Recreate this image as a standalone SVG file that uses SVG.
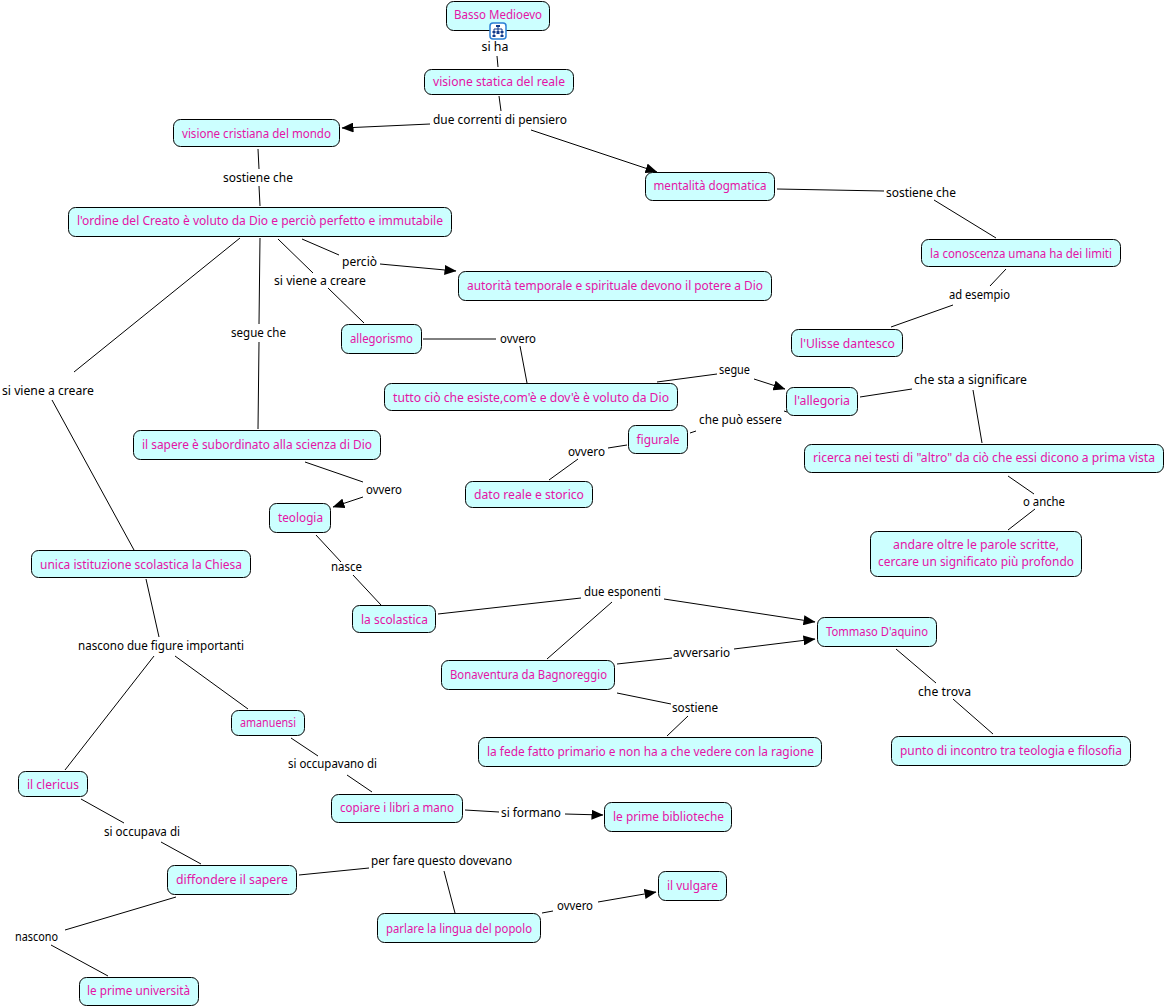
<svg xmlns="http://www.w3.org/2000/svg" width="1166" height="1008" viewBox="0 0 1166 1008">
<style>
text{font-family:"Noto Sans","DejaVu Sans",sans-serif;font-size:12px;text-anchor:middle}
.n rect.b{fill:#ccffff;stroke:#000;stroke-width:1}
.n text{fill:#e413a5}
.l text{fill:#000}
#connectors line{stroke:#000;stroke-width:1;fill:none}
#connectors line.a{marker-end:url(#arrow)}
</style>
<defs>
<marker id="arrow" markerUnits="userSpaceOnUse" markerWidth="12" markerHeight="10" refX="11.500" refY="5" orient="auto"><path d="M0 0L12 5L0 10Z" fill="#000"/></marker>
</defs>
<rect width="1166" height="1008" fill="#fff"/>
<g id="connectors">
<line x1="497" y1="56" x2="498" y2="67"/>
<line x1="499" y1="96" x2="501" y2="111"/>
<line class="a" x1="430" y1="124" x2="342" y2="128"/>
<line class="a" x1="531" y1="130" x2="657" y2="172"/>
<line x1="258" y1="149" x2="259" y2="169"/>
<line x1="259" y1="186" x2="260" y2="206"/>
<line x1="777" y1="189" x2="884" y2="191"/>
<line x1="934" y1="200" x2="996" y2="238"/>
<line x1="1006" y1="269" x2="990" y2="286"/>
<line x1="953" y1="305" x2="891" y2="327"/>
<line x1="302" y1="239" x2="339" y2="255"/>
<line class="a" x1="380" y1="264" x2="456" y2="271"/>
<line x1="278" y1="239" x2="313" y2="273"/>
<line x1="328" y1="288" x2="364" y2="323"/>
<line x1="260" y1="238" x2="259" y2="324"/>
<line x1="259" y1="342" x2="258" y2="429"/>
<line x1="240" y1="238" x2="74" y2="372"/>
<line x1="52" y1="400" x2="134" y2="550"/>
<line x1="423" y1="339" x2="496" y2="339"/>
<line x1="520" y1="346" x2="527" y2="383"/>
<line x1="657" y1="382" x2="717" y2="374"/>
<line class="a" x1="754" y1="379" x2="785" y2="389"/>
<line x1="860" y1="397" x2="912" y2="389"/>
<line x1="973" y1="390" x2="982" y2="443"/>
<line x1="784" y1="411" x2="787" y2="412"/>
<line x1="690" y1="433" x2="696" y2="431"/>
<line x1="608" y1="448" x2="627" y2="445"/>
<line x1="578" y1="459" x2="549" y2="480"/>
<line x1="1008" y1="476" x2="1034" y2="494"/>
<line x1="1035" y1="509" x2="1008" y2="530"/>
<line x1="305" y1="462" x2="363" y2="482"/>
<line class="a" x1="363" y1="497" x2="333" y2="507"/>
<line x1="316" y1="535" x2="341" y2="562"/>
<line x1="353" y1="575" x2="381" y2="605"/>
<line x1="438" y1="614" x2="581" y2="598"/>
<line class="a" x1="664" y1="599" x2="815" y2="622"/>
<line x1="547" y1="659" x2="612" y2="602"/>
<line x1="617" y1="664" x2="672" y2="658"/>
<line class="a" x1="734" y1="649" x2="815" y2="639"/>
<line x1="617" y1="693" x2="671" y2="704"/>
<line x1="688" y1="716" x2="667" y2="736"/>
<line x1="896" y1="649" x2="936" y2="683"/>
<line x1="953" y1="699" x2="993" y2="734"/>
<line x1="146" y1="579" x2="159" y2="637"/>
<line x1="154" y1="656" x2="65" y2="770"/>
<line x1="175" y1="656" x2="248" y2="709"/>
<line x1="291" y1="738" x2="318" y2="756"/>
<line x1="347" y1="775" x2="372" y2="792"/>
<line x1="81" y1="799" x2="124" y2="823"/>
<line x1="161" y1="842" x2="201" y2="864"/>
<line x1="465" y1="810" x2="499" y2="812"/>
<line class="a" x1="565" y1="814" x2="603" y2="815"/>
<line x1="299" y1="875" x2="369" y2="868"/>
<line x1="444" y1="871" x2="455" y2="913"/>
<line x1="542" y1="913" x2="553" y2="911"/>
<line class="a" x1="598" y1="902" x2="656" y2="892"/>
<line x1="176" y1="897" x2="65" y2="930"/>
<line x1="51" y1="945" x2="108" y2="976"/>
</g>
<g id="n1" class="n"><rect class="b" x="446.500" y="1.500" width="103" height="29" rx="7"/><text x="498" y="19" textLength="88" lengthAdjust="spacingAndGlyphs">Basso Medioevo</text>
<rect x="490" y="23" width="16" height="16" rx="3" fill="#fff" stroke="#2a7fd5" stroke-width="1.500"/><path d="M498 26V29M494 31V29H502V31M498 29V31M494 33V35M502 33V35" fill="none" stroke="#123a8c" stroke-width="1"/><path d="M496 25h4v2h-4zM492.500 31h3v2h-3zM496.500 31h3v3h-3zM500.500 31h3v2h-3zM492.500 35h3v2h-3zM500.500 35h3v2h-3z" fill="#123a8c"/></g>
<g id="n2" class="n"><rect class="b" x="424.500" y="69.500" width="149" height="25" rx="7"/><text x="499" y="86" textLength="132" lengthAdjust="spacingAndGlyphs">visione statica del reale</text></g>
<g id="n3" class="n"><rect class="b" x="173.500" y="119.500" width="166" height="27" rx="7"/><text x="256.500" y="138" textLength="149" lengthAdjust="spacingAndGlyphs">visione cristiana del mondo</text></g>
<g id="n4" class="n"><rect class="b" x="645.500" y="172.500" width="129" height="28" rx="7"/><text x="710" y="190" textLength="113" lengthAdjust="spacingAndGlyphs">mentalità dogmatica</text></g>
<g id="n5" class="n"><rect class="b" x="68.500" y="207.500" width="383" height="29" rx="7"/><text x="260" y="225" textLength="366" lengthAdjust="spacingAndGlyphs">l'ordine del Creato è voluto da Dio e perciò perfetto e immutabile</text></g>
<g id="n6" class="n"><rect class="b" x="921.500" y="239.500" width="199" height="27" rx="7"/><text x="1021" y="258" textLength="182" lengthAdjust="spacingAndGlyphs">la conoscenza umana ha dei limiti</text></g>
<g id="n7" class="n"><rect class="b" x="458.500" y="271.500" width="313" height="29" rx="7"/><text x="615" y="290" textLength="296" lengthAdjust="spacingAndGlyphs">autorità temporale e spirituale devono il potere a Dio</text></g>
<g id="n8" class="n"><rect class="b" x="791.500" y="329.500" width="111" height="27" rx="7"/><text x="847.500" y="348" textLength="95" lengthAdjust="spacingAndGlyphs">l'Ulisse dantesco</text></g>
<g id="n9" class="n"><rect class="b" x="341.500" y="324.500" width="80" height="29" rx="7"/><text x="381.500" y="343" textLength="63" lengthAdjust="spacingAndGlyphs">allegorismo</text></g>
<g id="n10" class="n"><rect class="b" x="384.500" y="383.500" width="293" height="27" rx="7"/><text x="531" y="402" textLength="276" lengthAdjust="spacingAndGlyphs">tutto ciò che esiste,com'è e dov'è è voluto da Dio</text></g>
<g id="n11" class="n"><rect class="b" x="786.500" y="387.500" width="71" height="28" rx="7"/><text x="822" y="405" textLength="56" lengthAdjust="spacingAndGlyphs">l'allegoria</text></g>
<g id="n12" class="n"><rect class="b" x="628.500" y="425.500" width="59" height="28" rx="7"/><text x="658" y="444" textLength="43" lengthAdjust="spacingAndGlyphs">figurale</text></g>
<g id="n13" class="n"><rect class="b" x="804.500" y="444.500" width="359" height="28" rx="7"/><text x="984" y="462" textLength="342" lengthAdjust="spacingAndGlyphs">ricerca nei testi di "altro" da ciò che essi dicono a prima vista</text></g>
<g id="n14" class="n"><rect class="b" x="465.500" y="481.500" width="127" height="26" rx="7"/><text x="529" y="499" textLength="110" lengthAdjust="spacingAndGlyphs">dato reale e storico</text></g>
<g id="n15" class="n"><rect class="b" x="133.500" y="430.500" width="247" height="29" rx="7"/><text x="257" y="449" textLength="230" lengthAdjust="spacingAndGlyphs">il sapere è subordinato alla scienza di Dio</text></g>
<g id="n16" class="n"><rect class="b" x="269.500" y="503.500" width="61" height="29" rx="7"/><text x="300.500" y="522" textLength="45" lengthAdjust="spacingAndGlyphs">teologia</text></g>
<g id="n17" class="n"><rect class="b" x="870.500" y="531.500" width="211" height="45" rx="7"/><text x="976" y="549" textLength="166" lengthAdjust="spacingAndGlyphs">andare oltre le parole scritte,</text><text x="976" y="566" textLength="196" lengthAdjust="spacingAndGlyphs">cercare un significato più profondo</text></g>
<g id="n18" class="n"><rect class="b" x="31.500" y="550.500" width="219" height="27" rx="7"/><text x="141" y="569" textLength="202" lengthAdjust="spacingAndGlyphs">unica istituzione scolastica la Chiesa</text></g>
<g id="n19" class="n"><rect class="b" x="352.500" y="605.500" width="83" height="27" rx="7"/><text x="394.500" y="624" textLength="67" lengthAdjust="spacingAndGlyphs">la scolastica</text></g>
<g id="n20" class="n"><rect class="b" x="817.500" y="617.500" width="119" height="29" rx="7"/><text x="877" y="636" textLength="102" lengthAdjust="spacingAndGlyphs">Tommaso D'aquino</text></g>
<g id="n21" class="n"><rect class="b" x="441.500" y="660.500" width="173" height="29" rx="7"/><text x="528.500" y="679" textLength="157" lengthAdjust="spacingAndGlyphs">Bonaventura da Bagnoreggio</text></g>
<g id="n22" class="n"><rect class="b" x="231.500" y="710.500" width="73" height="25" rx="7"/><text x="268" y="727" textLength="56" lengthAdjust="spacingAndGlyphs">amanuensi</text></g>
<g id="n23" class="n"><rect class="b" x="478.500" y="737.500" width="343" height="29" rx="7"/><text x="650.500" y="756" textLength="327" lengthAdjust="spacingAndGlyphs">la fede fatto primario e non ha a che vedere con la ragione</text></g>
<g id="n24" class="n"><rect class="b" x="891.500" y="736.500" width="239" height="29" rx="7"/><text x="1011" y="755" textLength="222" lengthAdjust="spacingAndGlyphs">punto di incontro tra teologia e filosofia</text></g>
<g id="n25" class="n"><rect class="b" x="18.500" y="771.500" width="69" height="25" rx="7"/><text x="53" y="789" textLength="52" lengthAdjust="spacingAndGlyphs">il clericus</text></g>
<g id="n26" class="n"><rect class="b" x="331.500" y="794.500" width="131" height="28" rx="7"/><text x="397" y="812" textLength="114" lengthAdjust="spacingAndGlyphs">copiare i libri a mano</text></g>
<g id="n27" class="n"><rect class="b" x="604.500" y="802.500" width="127" height="29" rx="7"/><text x="668.500" y="821" textLength="111" lengthAdjust="spacingAndGlyphs">le prime biblioteche</text></g>
<g id="n28" class="n"><rect class="b" x="167.500" y="865.500" width="129" height="29" rx="7"/><text x="232" y="884" textLength="112" lengthAdjust="spacingAndGlyphs">diffondere il sapere</text></g>
<g id="n29" class="n"><rect class="b" x="658.500" y="871.500" width="68" height="29" rx="7"/><text x="692.500" y="890" textLength="51" lengthAdjust="spacingAndGlyphs">il vulgare</text></g>
<g id="n30" class="n"><rect class="b" x="377.500" y="913.500" width="163" height="29" rx="7"/><text x="459" y="933" textLength="146" lengthAdjust="spacingAndGlyphs">parlare la lingua del popolo</text></g>
<g id="n31" class="n"><rect class="b" x="79.500" y="977.500" width="119" height="28" rx="7"/><text x="138.500" y="995" textLength="103" lengthAdjust="spacingAndGlyphs">le prime università</text></g>
<g id="labels" class="l">
<text x="495" y="51" textLength="27" lengthAdjust="spacingAndGlyphs">si ha</text>
<text x="500" y="124" textLength="134" lengthAdjust="spacingAndGlyphs">due correnti di pensiero</text>
<text x="258" y="182" textLength="70" lengthAdjust="spacingAndGlyphs">sostiene che</text>
<text x="921" y="197" textLength="70" lengthAdjust="spacingAndGlyphs">sostiene che</text>
<text x="979.500" y="299" textLength="61" lengthAdjust="spacingAndGlyphs">ad esempio</text>
<text x="359.500" y="266" textLength="35" lengthAdjust="spacingAndGlyphs">perciò</text>
<text x="320" y="285" textLength="92" lengthAdjust="spacingAndGlyphs">si viene a creare</text>
<text x="258.500" y="337" textLength="55" lengthAdjust="spacingAndGlyphs">segue che</text>
<text x="518" y="343" textLength="36" lengthAdjust="spacingAndGlyphs">ovvero</text>
<text x="734.500" y="374" textLength="31" lengthAdjust="spacingAndGlyphs">segue</text>
<text x="970.500" y="384" textLength="113" lengthAdjust="spacingAndGlyphs">che sta a significare</text>
<text x="740.500" y="424" textLength="83" lengthAdjust="spacingAndGlyphs">che può essere</text>
<text x="586.500" y="456" textLength="37" lengthAdjust="spacingAndGlyphs">ovvero</text>
<text x="48" y="395" textLength="92" lengthAdjust="spacingAndGlyphs">si viene a creare</text>
<text x="384" y="494" textLength="36" lengthAdjust="spacingAndGlyphs">ovvero</text>
<text x="1044" y="506" textLength="42" lengthAdjust="spacingAndGlyphs">o anche</text>
<text x="346.500" y="571" textLength="31" lengthAdjust="spacingAndGlyphs">nasce</text>
<text x="622.500" y="596" textLength="77" lengthAdjust="spacingAndGlyphs">due esponenti</text>
<text x="701.500" y="657" textLength="57" lengthAdjust="spacingAndGlyphs">avversario</text>
<text x="695" y="712" textLength="46" lengthAdjust="spacingAndGlyphs">sostiene</text>
<text x="944.500" y="696" textLength="53" lengthAdjust="spacingAndGlyphs">che trova</text>
<text x="161" y="650" textLength="166" lengthAdjust="spacingAndGlyphs">nascono due figure importanti</text>
<text x="332.500" y="768" textLength="89" lengthAdjust="spacingAndGlyphs">si occupavano di</text>
<text x="531" y="817" textLength="60" lengthAdjust="spacingAndGlyphs">si formano</text>
<text x="142" y="836" textLength="76" lengthAdjust="spacingAndGlyphs">si occupava di</text>
<text x="441.500" y="865" textLength="141" lengthAdjust="spacingAndGlyphs">per fare questo dovevano</text>
<text x="575" y="910" textLength="36" lengthAdjust="spacingAndGlyphs">ovvero</text>
<text x="36.500" y="941" textLength="43" lengthAdjust="spacingAndGlyphs">nascono</text>
</g>
</svg>
